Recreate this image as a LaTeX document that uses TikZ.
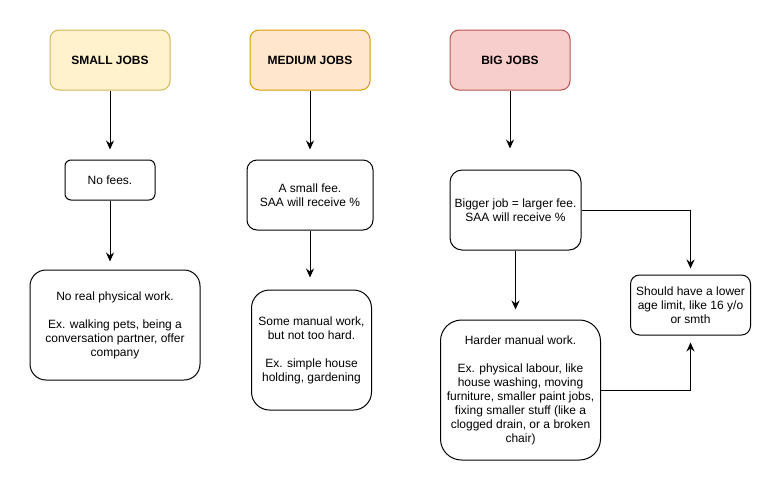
\documentclass[tikz,border=0pt]{standalone}
\usepackage{fontspec}
\setmainfont{Liberation Sans}
\usepackage{xcolor}
\usepackage{tikz}
\usetikzlibrary{positioning,arrows.meta}
\definecolor{smallfill}{HTML}{FFF2CC}
\definecolor{smalldraw}{HTML}{D6B656}
\definecolor{medfill}{HTML}{FFE6CC}
\definecolor{meddraw}{HTML}{D79B00}
\definecolor{bigfill}{HTML}{F8CECC}
\definecolor{bigdraw}{HTML}{B85450}

\begin{document}
\begin{tikzpicture}[
        x=1pt, y=-1pt,
        every node/.style={
            rectangle,
            draw=black,
            line width=1pt,
            text=black,
            align=center,
            inner sep=2pt,
            font=\fontsize{12pt}{14pt}\selectfont
        },
        arrow/.style={
            -{Stealth[length=9pt,width=8pt,inset=3pt]},
            line width=1pt,
            color=black
        },
        header/.style={
            minimum width=120pt,
            minimum height=60pt,
            rounded corners=9pt,
            font=\fontsize{12pt}{14pt}\selectfont\bfseries
        },
        smalljob/.style={header, fill=smallfill, draw=smalldraw},
        medjob/.style={header, fill=medfill, draw=meddraw},
        bigjob/.style={header, fill=bigfill, draw=bigdraw}
    ]
        \useasboundingbox (0,0) rectangle (781,491);

        \node (small) [smalljob] at (110,60) {SMALL JOBS};
        \node (medium) [right of=small, node distance=200pt, medjob] {MEDIUM JOBS};
        \node (big) [right of=medium, node distance=200pt, bigjob] {BIG JOBS};

        \node (nofee) [below of=small, node distance=120pt, minimum width=90pt, minimum height=40pt, rounded corners=6pt] {No fees.};
        \node (noreal) [below of=nofee, node distance=145pt, xshift=5pt, minimum width=170pt, minimum height=110pt, rounded corners=16pt] {No real physical work.\\[14pt]Ex. walking pets, being a\\conversation partner, offer\\company};

        \node (fee) [below of=medium, node distance=135pt, minimum width=126pt, minimum height=70pt, rounded corners=10pt] {A small fee.\\SAA will receive \%};
        \node (manual) [below of=fee, node distance=155pt, xshift=1.5pt, minimum width=120pt, minimum height=120pt, rounded corners=18pt] {Some manual work,\\but not too hard.\\[14pt]Ex. simple house\\holding, gardening};

        \node (bigger) [below of=big, node distance=150pt, xshift=5.5pt, minimum width=131pt, minimum height=80pt, rounded corners=12pt] {Bigger job = larger fee.\\SAA will receive \%};
        \node (harder) [below of=bigger, node distance=180pt, xshift=5pt, minimum width=160pt, minimum height=140pt, rounded corners=21pt] {Harder manual work.\\[14pt]Ex. physical labour, like\\house washing, moving\\furniture, smaller paint jobs,\\fixing smaller stuff (like a\\clogged drain, or a broken\\chair)};
        \node (should) [right of=bigger, node distance=175pt, yshift=-95pt, minimum width=120pt, minimum height=60pt, rounded corners=9pt] {Should have a lower\\age limit, like 16 y/o\\or smth};

        \draw[arrow, shorten >=10pt] (small) -- (nofee);
        \draw[arrow, shorten >=8pt] (nofee) -- (nofee |- noreal.north);
        \draw[arrow, shorten >=10pt] (medium) -- (fee);
        \draw[arrow, shorten >=12pt] (fee) -- (fee |- manual.north);
        \draw[arrow, shorten >=21pt] (big) -- (big |- bigger.north);
        \draw[arrow, shorten >=10pt] (bigger) -- (bigger |- harder.north);
        \draw[arrow, shorten >=6pt] (bigger.east) -| (should.north);
        \draw[arrow, shorten >=7pt] (harder.east) -| (should.south);
    \end{tikzpicture}
\end{document}
